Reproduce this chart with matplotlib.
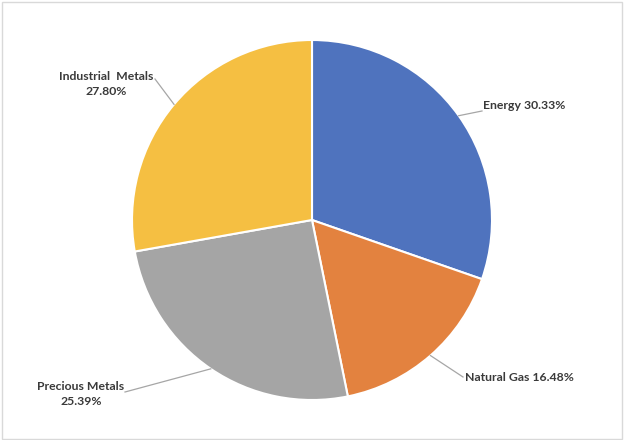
import numpy as np
import matplotlib
matplotlib.use("Agg")
import matplotlib.pyplot as plt
from matplotlib.patches import Rectangle

# data
categories = ["Energy", "Natural Gas", "Precious Metals", "Industrial  Metals"]
shares = [30.33, 16.48, 25.39, 27.80]
label_texts = ["Energy 30.33%", "Natural Gas 16.48%", "Precious Metals\n25.39%", "Industrial  Metals\n27.80%"]
colors = ["#4F73BE", "#E3823F", "#A5A5A5", "#F5BF42"]

# layout (pixel coords, y measured from bottom)
W, H = 624, 440
center = (312, H - 220)
radius = 180
label_pos = [(483, H - 105), (465, H - 377), (81, H - 394), (106, H - 84)]
label_ha = ["left", "left", "center", "center"]
leader_end = [(482, H - 111), (463, H - 377), (125, H - 392), (155, H - 79)]

fig = plt.figure(figsize=(W / 100, H / 100), dpi=100)
ax = fig.add_axes([0, 0, 1, 1])

wedges, _ = ax.pie(shares, colors=colors, startangle=90, counterclock=False,
                   center=center, radius=radius, frame=True,
                   wedgeprops=dict(edgecolor="white", linewidth=1.5))
ax.set_xlim(0, W)
ax.set_ylim(0, H)
ax.set_aspect("equal")
ax.axis("off")

for w, txt, pos, ha, end in zip(wedges, label_texts, label_pos, label_ha, leader_end):
    mid = np.deg2rad((w.theta1 + w.theta2) / 2)
    start = (center[0] + radius * np.cos(mid), center[1] + radius * np.sin(mid))
    ax.plot([start[0], end[0]], [start[1], end[1]], color="#A6A6A6", lw=0.9)
    ax.text(pos[0], pos[1], txt, ha=ha, va="center", family="Lato",
            fontweight="bold", fontsize=8.8, color="#3A3A3A", linespacing=1.4)

# light chart border
fig.patches.append(Rectangle((1.5 / W, 1.5 / H), 1 - 4 / W, 1 - 4 / H,
                             transform=fig.transFigure, fill=False,
                             edgecolor="#D9D9D9", lw=1.0))

fig.savefig("out.png", dpi=100, facecolor="white")
